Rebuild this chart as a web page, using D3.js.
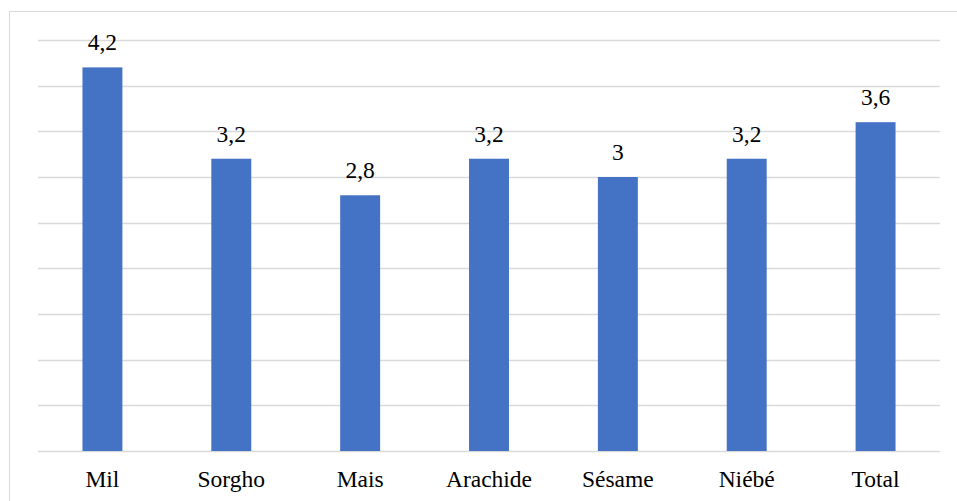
<!DOCTYPE html>
<html>
<head>
<meta charset="utf-8">
<script src="https://cdn.jsdelivr.net/npm/d3@7"></script>
<style>
  html, body { margin: 0; padding: 0; background: #fff; }
  svg { display: block; }
</style>
</head>
<body>
<svg id="chart" width="957" height="501"></svg>
<script>
// Crops and their values
const categories = ["Mil", "Sorgho", "Mais", "Arachide", "Sésame", "Niébé", "Total"];
const values = [4.2, 3.2, 2.8, 3.2, 3.0, 3.2, 3.6];
const valueLabels = ["4,2", "3,2", "2,8", "3,2", "3", "3,2", "3,6"];
const gridTicks = [0, 0.5, 1, 1.5, 2, 2.5, 3, 3.5, 4, 4.5];

const svg = d3.select("#chart");
const W = 957, H = 501;
const plot = { left: 38, right: 940, top: 40, bottom: 451 };
const FONT = '"Liberation Serif", "Times New Roman", serif';
const FONT_SIZE = "23.5px";

// chart frame
svg.append("rect")
  .attr("x", 9.5).attr("y", 11.5)
  .attr("width", W).attr("height", H)
  .attr("fill", "none").attr("stroke", "#d9d9d9").attr("stroke-width", 1);

const x = d3.scaleBand()
  .domain(categories)
  .range([plot.left, plot.right])
  .paddingInner(0.69)
  .paddingOuter(0.345);

const y = d3.scaleLinear()
  .domain([0, 4.5])
  .range([plot.bottom, plot.top]);

// horizontal gridlines
svg.append("g")
  .selectAll("line")
  .data(gridTicks)
  .join("line")
  .attr("x1", plot.left).attr("x2", plot.right)
  .attr("y1", d => Math.round(y(d)) + 0.5)
  .attr("y2", d => Math.round(y(d)) + 0.5)
  .attr("stroke", "#d9d9d9").attr("stroke-width", 1.5);

// bars
svg.append("g")
  .selectAll("rect")
  .data(values)
  .join("rect")
  .attr("x", (d, i) => x(categories[i]))
  .attr("width", x.bandwidth())
  .attr("y", d => y(d))
  .attr("height", d => y(0) - y(d))
  .attr("fill", "#4472c4");

// value labels
svg.append("g")
  .selectAll("text")
  .data(values)
  .join("text")
  .attr("x", (d, i) => x(categories[i]) + x.bandwidth() / 2)
  .attr("y", d => y(d) - 17)
  .attr("text-anchor", "middle")
  .style("font-family", FONT)
  .style("font-size", FONT_SIZE)
  .attr("fill", "#000")
  .text((d, i) => valueLabels[i]);

// category axis
const xAxis = svg.append("g")
  .attr("transform", `translate(0,${plot.bottom})`)
  .call(d3.axisBottom(x).tickSize(0).tickPadding(0));
xAxis.select(".domain").remove();
xAxis.selectAll("text")
  .attr("dy", null)
  .attr("y", 36)
  .style("font-family", FONT)
  .style("font-size", FONT_SIZE)
  .attr("fill", "#000");
</script>
</body>
</html>
